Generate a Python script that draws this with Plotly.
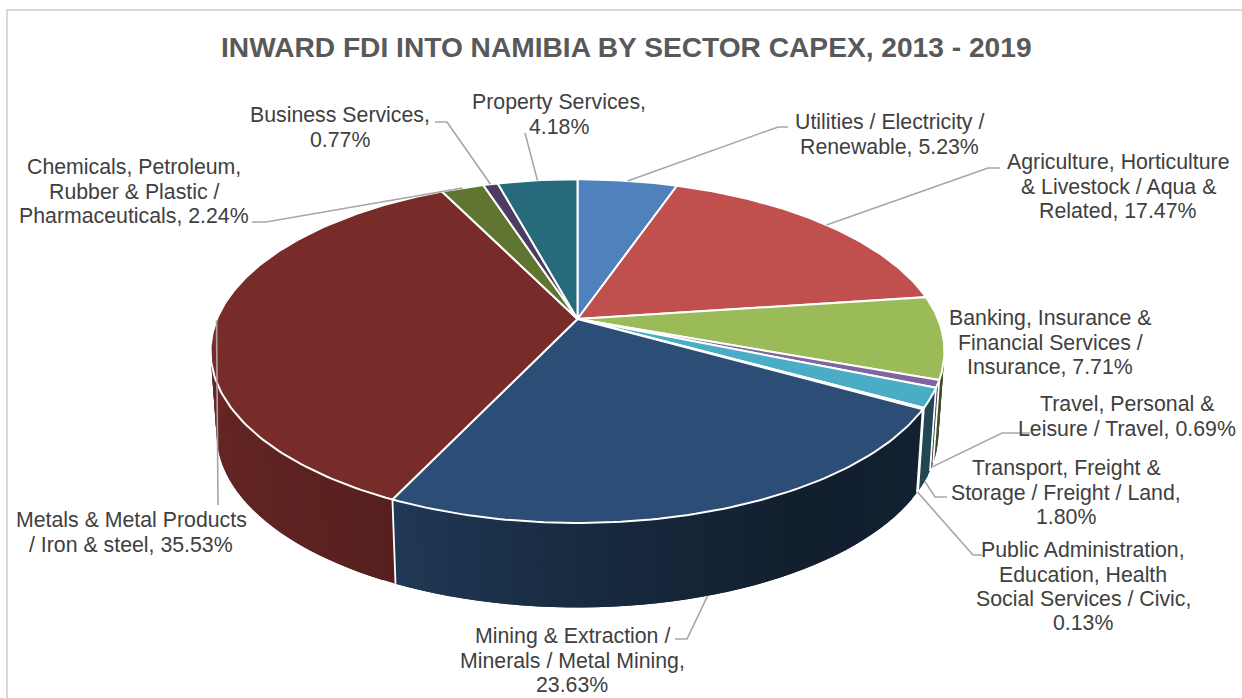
import numpy as np
import plotly.graph_objects as go

title = "INWARD FDI INTO NAMIBIA BY SECTOR CAPEX, 2013 - 2019"
sectors = ["Utilities", "Agriculture", "Banking", "Travel", "Transport", "Public Administration",
           "Mining", "Metals", "Chemicals", "Business", "Property"]
shares = [5.23, 17.47, 7.71, 0.69, 1.80, 0.13, 23.63, 35.53, 2.24, 0.77, 4.18]
colors = ["#4f81bd", "#c0504d", "#9bbb59", "#8064a2", "#4bacc6", "#f79646",
          "#2c4d75", "#772c2a", "#5f7530", "#4d3b62", "#276a7c"]
label_lines = [
    ["Utilities / Electricity /", "Renewable, 5.23%"],
    ["Agriculture, Horticulture", "&amp; Livestock / Aqua &amp;", "Related, 17.47%"],
    ["Banking, Insurance &amp;", "Financial Services /", "Insurance, 7.71%"],
    ["Travel, Personal &amp;", "Leisure / Travel, 0.69%"],
    ["Transport, Freight &amp;", "Storage / Freight / Land,", "1.80%"],
    ["Public Administration,", "Education, Health", "Social Services / Civic,", "0.13%"],
    ["Mining &amp; Extraction /", "Minerals / Metal Mining,", "23.63%"],
    ["Metals &amp; Metal Products", "/ Iron &amp; steel, 35.53%"],
    ["Chemicals, Petroleum,", "Rubber &amp; Plastic /", "Pharmaceuticals, 2.24%"],
    ["Business Services,", "0.77%"],
    ["Property Services,", "4.18%"],
]
label_x = [889, 1118, 1050, 1127, 1066, 1083, 572, 131, 134, 340, 559]
label_y = [134.5, 186.7, 342.7, 416.5, 492.7, 586.7, 660.7, 532.5, 191.7, 127.5, 114.5]
leaders = {
    0: ([(778, 127), (788, 127)], "top"),
    1: ([(988, 168), (1000, 168)], "top"),
    3: ([(1002, 433), (1030, 433)], "low"),
    4: ([(935, 497), (947, 497)], "low"),
    5: ([(973, 555), (982, 555)], "low"),
    6: ([(687, 639), (675, 639)], "low"),
    7: ([(218, 505)], "top"),
    8: ([(266, 222), (252, 222)], "top"),
    9: ([(447, 122), (435, 122)], "top"),
    10: ([(525, 133)], "top"),
}
shade_angle = [80, 105, 120, 150, 180, 205, 270, 290]
shade_gain = [0.45, 0.42, 0.42, 0.40, 0.55, 0.73, 0.90, 0.90]

CX, CY_TOP, CY_LOW = 577.5, 319.0, 401.5
K = 0.187
A_TOP, B_TOP, A_LOW, B_LOW = 360.5, 165.8, 354.5, 167.5
LINE_STEP = 24.3


def rim(theta_deg, level):
    t = np.radians(theta_deg)
    u, v = np.sin(t), np.cos(t)
    d = 1 + K * v
    if level == "top":
        return CX + A_TOP * u / d, CY_TOP - B_TOP * v / d
    return CX + A_LOW * u / d, CY_LOW - B_LOW * v / d


def scale_color(hex_color, gain):
    rgb = [int(hex_color[i:i + 2], 16) for i in (1, 3, 5)]
    return "rgb({},{},{})".format(*[int(round(c * gain)) for c in rgb])


total = sum(shares)
edges = np.concatenate([[0.0], np.cumsum(shares)]) / total * 360.0

fig = go.Figure()
common = dict(mode="lines", hoverinfo="skip", showlegend=False)

# side wall facets; each one runs under the next so no seams show
for i, name in enumerate(sectors):
    a0, a1 = max(edges[i], 80.0), min(edges[i + 1], 290.0)
    if a1 <= a0:
        continue
    n = max(1, int(np.ceil((a1 - a0) / 2.0)))
    steps = np.linspace(a0, a1, n + 1)
    for j, (s0, s1) in enumerate(zip(steps[:-1], steps[1:])):
        s_end = min(s1 + (s1 - s0), a1)
        th = np.array([s0, (s0 + s_end) / 2, s_end])
        xt, yt = rim(th, "top")
        xl, yl = rim(th[::-1], "low")
        col = scale_color(colors[i], np.interp((s0 + s1) / 2, shade_angle, shade_gain))
        fig.add_trace(go.Scatter(x=np.r_[xt, xl, xt[0]], y=np.r_[yt, yl, yt[0]], fill="toself",
                                 fillcolor=col, line=dict(width=0), name=name, **common))

# white seams on the side wall
for e in edges:
    if 90 < e < 270:
        x0, y0 = rim(e, "top")
        x1, y1 = rim(e, "low")
        fig.add_trace(go.Scatter(x=[x0, x1], y=[y0, y1], line=dict(color="#ffffff", width=1.8), **common))

# top faces
for i, name in enumerate(sectors):
    n = max(2, int(np.ceil((edges[i + 1] - edges[i]) / 1.0)))
    th = np.linspace(edges[i], edges[i + 1], n + 1)
    xs, ys = rim(th, "top")
    fig.add_trace(go.Scatter(x=np.r_[CX, xs, CX], y=np.r_[CY_TOP, ys, CY_TOP], fill="toself",
                             fillcolor=colors[i], line=dict(color="#ffffff", width=2), name=name, **common))

# leader lines
for i, (pts, level) in leaders.items():
    ax, ay = rim((edges[i] + edges[i + 1]) / 2, level)
    fig.add_trace(go.Scatter(x=[ax] + [p[0] for p in pts], y=[ay] + [p[1] for p in pts],
                             line=dict(color="#a6a6a6", width=1.6), **common))

FONT = "Liberation Sans, Arial, sans-serif"
annotations = [dict(x=626.5, y=47, xref="x", yref="y", text="<b>" + title + "</b>", showarrow=False,
                    xanchor="center", yanchor="middle", font=dict(family=FONT, size=28.15, color="#595959"))]
for lines, x, y in zip(label_lines, label_x, label_y):
    for k, line in enumerate(lines):
        annotations.append(dict(x=x, y=y + (k - (len(lines) - 1) / 2) * LINE_STEP, xref="x", yref="y",
                                text=line, showarrow=False, xanchor="center", yanchor="middle",
                                font=dict(family=FONT, size=21.3, color="#404040")))

fig.update_layout(
    width=1242, height=698, margin=dict(l=0, r=0, t=0, b=0), autosize=False,
    paper_bgcolor="white", plot_bgcolor="white", showlegend=False,
    xaxis=dict(range=[0, 1242], visible=False, fixedrange=True),
    yaxis=dict(range=[698, 0], visible=False, fixedrange=True),
    annotations=annotations,
    shapes=[dict(type="rect", xref="x", yref="y", x0=7, y0=10, x1=1260, y1=720,
                 line=dict(color="#d9d9d9", width=2), layer="below")],
)

fig.write_html("out.html", config={"displayModeBar": False},
               post_script="document.body.style.margin='0';document.body.style.overflow='hidden';")
